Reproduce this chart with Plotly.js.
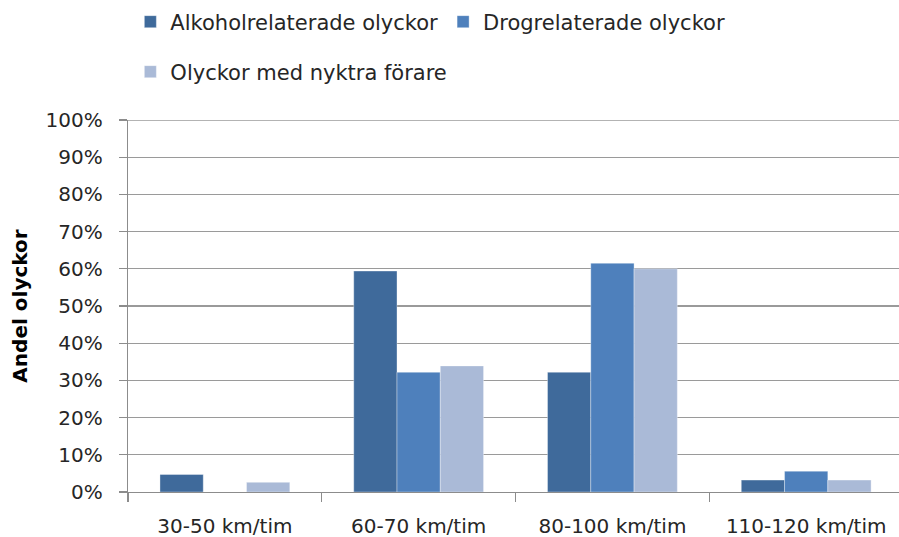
<!DOCTYPE html>
<html>
<head>
<meta charset="utf-8">
<script src="https://cdn.plot.ly/plotly-3.0.1.min.js"></script>
<style>
html,body{margin:0;padding:0;background:#fff;}
#chart{width:899px;height:537px;}
</style>
</head>
<body>
<div id="chart"></div>
<script>
const categories = ["30-50 km/tim", "60-70 km/tim", "80-100 km/tim", "110-120 km/tim"];
const alkohol = [0.047, 0.594, 0.322, 0.032];
const drog = [0, 0.322, 0.615, 0.056];
const nyktra = [0.026, 0.339, 0.600, 0.032];
const seriesNames = ["Alkoholrelaterade olyckor", "Drogrelaterade olyckor", "Olyckor med nyktra förare"];
const yTickVals = [0, 0.1, 0.2, 0.3, 0.4, 0.5, 0.6, 0.7, 0.8, 0.9, 1.0];

const FONT = "DejaVu Sans, sans-serif";
const barLine = {color: "rgba(255,255,255,0.35)", width: 1};
const GRID = "#9a9a9a";

const traces = [
  {type: "bar", name: seriesNames[0], x: categories, y: alkohol,
   marker: {color: "#3F6A9B", line: barLine}, legend: "legend"},
  {type: "bar", name: seriesNames[1], x: categories, y: drog,
   marker: {color: "#4E80BC", line: barLine}, legend: "legend"},
  {type: "bar", name: seriesNames[2], x: categories, y: nyktra,
   marker: {color: "#AABAD7", line: barLine}, legend: "legend2"}
];

const layout = {
  width: 899, height: 537,
  margin: {l: 128, r: 0, t: 120, b: 45},
  paper_bgcolor: "#fff", plot_bgcolor: "#fff",
  font: {family: FONT, color: "#262626", size: 20},
  barmode: "group",
  bargap: 0.33,
  bargroupgap: 0,
  showlegend: true,
  legend: {
    orientation: "h", xref: "container", yref: "container",
    x: 0.145, y: 1 - 22/537, xanchor: "left", yanchor: "middle",
    font: {family: FONT, size: 21, color: "#262626"},
    bgcolor: "rgba(0,0,0,0)", traceorder: "normal"
  },
  legend2: {
    orientation: "h", xref: "container", yref: "container",
    x: 0.145, y: 1 - 72/537, xanchor: "left", yanchor: "middle",
    font: {family: FONT, size: 21, color: "#262626"},
    bgcolor: "rgba(0,0,0,0)"
  },
  shapes: [
    {type: "line", xref: "paper", yref: "y", x0: 0, x1: 1, y0: yTickVals[yTickVals.length - 1], y1: yTickVals[yTickVals.length - 1],
     line: {color: GRID, width: 1.3}, layer: "below"}
  ],
  xaxis: {
    type: "category",
    range: [-0.5, 3.479],
    showline: true, linecolor: "#8c8c8c", linewidth: 1.3,
    ticks: "outside", tickson: "boundaries", ticklen: 9, tickcolor: "#8c8c8c", tickwidth: 1.3,
    showgrid: false,
    tickfont: {family: FONT, size: 20, color: "#262626"},
    ticklabelstandoff: 16,
    fixedrange: true
  },
  yaxis: {
    range: [0, 1],
    tickvals: yTickVals,
    tickformat: ".0%",
    showline: true, linecolor: "#8c8c8c", linewidth: 1.3,
    ticks: "outside", ticklen: 8, tickcolor: "#8c8c8c", tickwidth: 1.3,
    showgrid: true, gridcolor: GRID, gridwidth: 1.3,
    zeroline: false,
    tickfont: {family: FONT, size: 20, color: "#262626"},
    ticklabelstandoff: 12,
    title: {text: "<b>Andel olyckor</b>", font: {family: FONT, size: 20, color: "#000"}, standoff: 12},
    fixedrange: true
  }
};

Plotly.newPlot("chart", traces, layout, {displayModeBar: false, staticPlot: true});
</script>
</body>
</html>
